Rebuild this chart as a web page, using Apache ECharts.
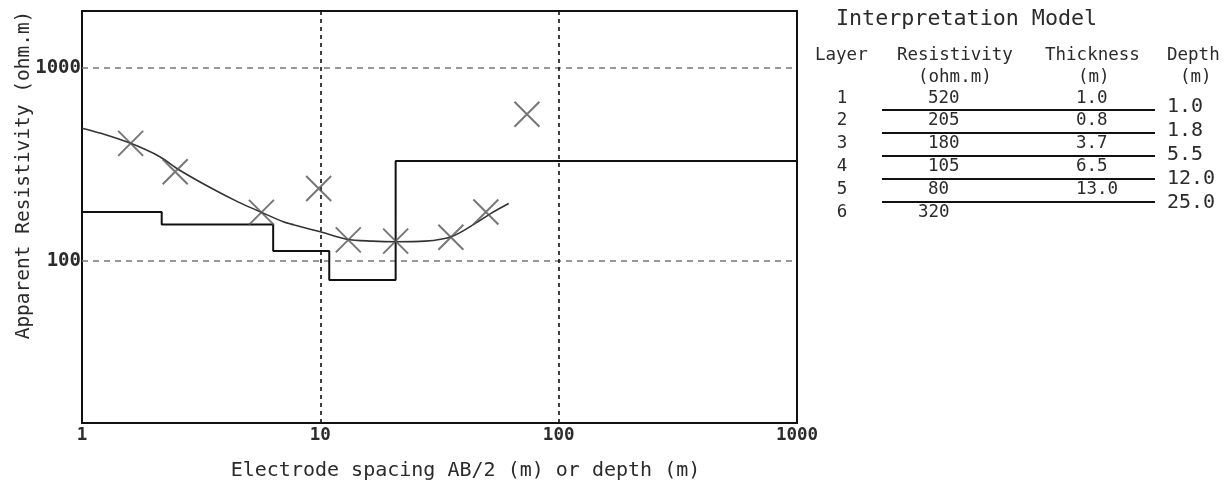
<!DOCTYPE html>
<html><head><meta charset="utf-8">
<script src="https://cdn.jsdelivr.net/npm/echarts@6/dist/echarts.min.js"></script>
<style>html,body{margin:0;padding:0;background:#fff}#c{width:1225px;height:486px}</style>
</head><body><div id="c"></div>
<script>
// Observed apparent resistivity (AB/2 in m, rho in ohm.m)
const obsSpacing = [1.60, 2.46, 5.66, 9.84, 13.1, 20.7, 35.3, 49.5, 73.6];
const obsRho = [408, 291, 179, 238, 129, 127, 133, 180, 577];
// Calculated (model) curve
const calcSpacing = [1, 1.2, 1.6, 2.12, 2.56, 3.51, 4.51, 5.62, 6.99, 7.78, 10, 12.9, 16.5, 20.7, 27.5, 35.9, 45.8, 52.0, 61.7];
const calcRho = [489, 460, 408, 348, 297, 238, 203, 180, 160, 154, 142, 130, 127, 126, 127, 134.8, 160, 177, 199];
// Layered model as drawn (boundary depths incl. plot ends, resistivity per layer)
const modelDepth = [1, 2.16, 6.34, 10.9, 20.7, 1000];
const modelRho = [180, 155, 113, 80, 331, 331];
// Axis ticks
const xTicks = [1, 10, 100, 1000];
const yTicks = [100, 1000];
// Interpretation table
const tblTitle = 'Interpretation Model';
const tblHead1 = ['Layer', 'Resistivity', 'Thickness', 'Depth'];
const tblHead2 = ['(ohm.m)', '(m)', '(m)'];
const tblLayer = ['1', '2', '3', '4', '5', '6'];
const tblRes = ['520', '205', '180', '105', '80', '320'];
const tblThick = ['1.0', '0.8', '3.7', '6.5', '13.0'];
const tblDepth = ['1.0', '1.8', '5.5', '12.0', '25.0'];

const FONT = '"DejaVu Sans Mono", "Liberation Mono", monospace';
const TXT = '#2b2b2b';

const chart = echarts.init(document.getElementById('c'), null, {renderer: 'canvas'});

function isDecade(v) { const l = Math.log10(v); return Math.abs(l - Math.round(l)) < 1e-6; }

const graphics = [];
function txt(s, x, y, size, align) {
  graphics.push({
    type: 'text', x: x, y: y, silent: true,
    style: {text: s, fill: TXT, font: size + 'px ' + FONT, textAlign: align || 'left', textVerticalAlign: 'middle'}
  });
}
txt(tblTitle, 836, 19, 21.7);
const h1x = [815, 897, 1045, 1167];
tblHead1.forEach((s, i) => txt(s, h1x[i], 55, 17.5));
const h2x = [918, 1078, 1180];
tblHead2.forEach((s, i) => txt(s, h2x[i], 77, 17.5));
tblLayer.forEach((s, i) => txt(s, 842, 98 + i * 22.8, 17.5, 'center'));
tblRes.forEach((s, i) => txt(s, i === 5 ? 918 : 928, 98 + i * 22.8, 17.5));
tblThick.forEach((s, i) => txt(s, 1076, 98 + i * 22.8, 17.5));
tblDepth.forEach((s, i) => {
  txt(s, 1167, 107 + i * 24, 20);
  graphics.push({type: 'line', silent: true, shape: {x1: 882, y1: 110 + i * 23, x2: 1155, y2: 110 + i * 23},
    style: {stroke: '#111', lineWidth: 1.8}});
});

const stepData = modelDepth.map((d, i) => [d, modelRho[i]]);

chart.setOption({
  animation: false,
  backgroundColor: '#fff',
  grid: {left: 82, right: 428, top: 11, bottom: 63, containLabel: false, outerBoundsMode: 'none',
    show: true, borderColor: '#111', borderWidth: 2, backgroundColor: 'transparent'},
  xAxis: {
    type: 'log', logBase: 10, min: xTicks[0], max: xTicks[xTicks.length - 1],
    name: 'Electrode spacing AB/2 (m) or depth (m)', nameLocation: 'middle', nameGap: 38, nameMoveOverlap: false,
    nameTextStyle: {fontFamily: FONT, fontSize: 20, color: TXT, padding: [0, 0, 0, 52]},
    axisLine: {show: false}, axisTick: {show: false},
    axisLabel: {fontFamily: FONT, fontSize: 17.5, color: TXT, margin: 3, fontWeight: 'bold',
      formatter: v => isDecade(v) ? String(Math.round(v)) : ''},
    splitLine: {show: true, showMinLine: false, showMaxLine: false, lineStyle: {color: '#111', type: [4, 4], width: 1.6}}
  },
  yAxis: {
    type: 'log', logBase: 10, min: 14.5, max: 1980,
    name: 'Apparent Resistivity (ohm.m)', nameLocation: 'middle', nameGap: 48, nameRotate: 90, nameMoveOverlap: false,
    nameTextStyle: {fontFamily: FONT, fontSize: 19.5, color: TXT, padding: [0, 0, 0, 84]},
    axisLine: {show: false}, axisTick: {show: false},
    axisLabel: {fontFamily: FONT, fontSize: 19, color: TXT, margin: 1, fontWeight: 'bold',
      formatter: v => (isDecade(v) && yTicks.indexOf(Math.round(v)) >= 0) ? String(Math.round(v)) : ''},
    splitLine: {show: true, showMinLine: false, showMaxLine: false, lineStyle: {color: '#777', type: [6, 5], width: 1.6}}
  },
  graphic: graphics,
  series: [
    {
      type: 'line', name: 'Model', step: 'end', data: stepData, showSymbol: false, silent: true,
      lineStyle: {color: '#111', width: 2}, z: 3
    },
    {
      type: 'line', name: 'Calculated', smooth: 0.3, showSymbol: false, silent: true,
      data: calcSpacing.map((x, i) => [x, calcRho[i]]),
      lineStyle: {color: '#333', width: 1.6}, z: 4
    },
    {
      type: 'scatter', name: 'Observed', symbol: 'path://M0,0L20,20M20,0L0,20', symbolSize: 25, silent: true,
      data: obsSpacing.map((x, i) => [x, obsRho[i]]),
      itemStyle: {color: 'none', borderColor: '#555', borderWidth: 2}, z: 5
    }
  ]
});
</script>
</body></html>
